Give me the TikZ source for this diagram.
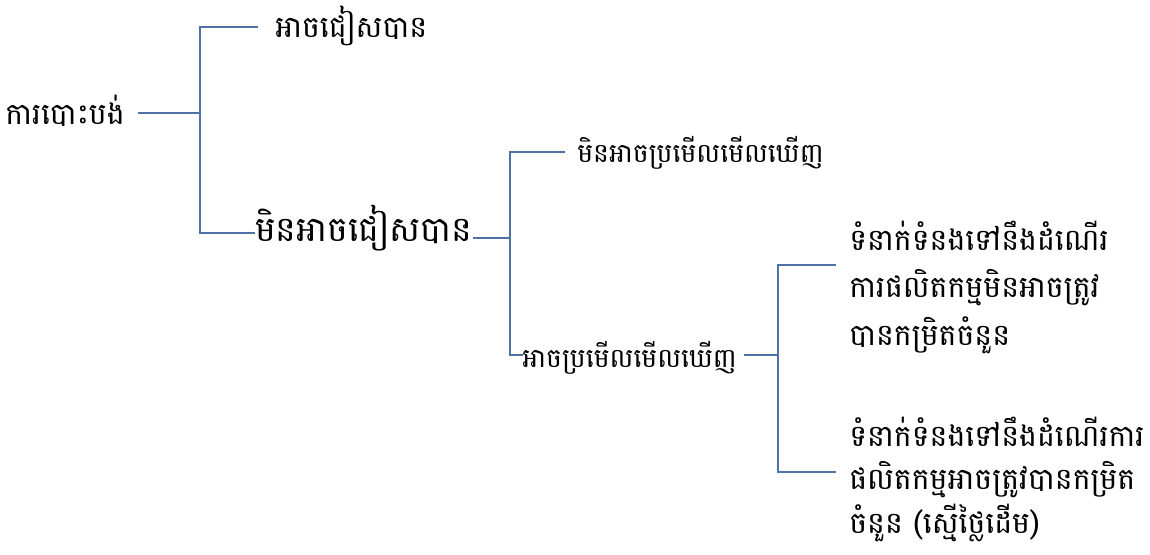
\documentclass[tikz,border=0pt]{standalone}
\usepackage{fontspec}
\newfontfamily\khmer[Script=Khmer]{Battambang}
\definecolor{linkblue}{RGB}{79,114,166}
\begin{document}
\begin{tikzpicture}[x=0.75pt,y=-0.75pt,
  lbl/.style={font=\khmer\fontsize{20}{35}\selectfont, anchor=base west, inner sep=0pt, align=left},
  mid/.style={lbl, font=\khmer\fontsize{22.5}{35}\selectfont},
  big/.style={lbl, font=\khmer\fontsize{26}{35}\selectfont},
  blockA/.style={lbl, font=\khmer\fontsize{22.5}{35.5}\selectfont},
  blockB/.style={lbl, font=\khmer\fontsize{22.5}{32.5}\selectfont},
  conn/.style={draw=linkblue, line width=1.4pt}]
\useasboundingbox (0,0) rectangle (1150,554);
\node[mid] (root) at (5,124) {ការបោះបង់};
\node[mid] (a1) at (275,37) {អាចជៀសបាន};
\node[big] (a2) at (255,241) {មិនអាចជៀសបាន};
\node[lbl] (b1) at (577,162) {មិនអាចប្រមើលមើលឃើញ};
\node[lbl] (b2) at (522,367) {អាចប្រមើលមើលឃើញ};
\node[blockA] (c1) at (849,345) {ទំនាក់ទំនងទៅនឹងដំណើរ\\ការផលិតកម្មមិនអាចត្រូវ\\បានកម្រិតចំនួន};
\node[blockB] (c2) at (849,533) {ទំនាក់ទំនងទៅនឹងដំណើរការ\\ផលិតកម្មអាចត្រូវបានកម្រិត\\ចំនួន (ស្មើថ្លៃដើម)};
\coordinate (j1) at (200,113);
\coordinate (j2) at (510,238);
\coordinate (j3) at (778,355);
\coordinate (a1e) at (258,27);
\coordinate (a2e) at (255,233);
\coordinate (b1e) at (565,152);
\coordinate (b2e) at (523,355);
\coordinate (c1e) at (836,265);
\coordinate (c2e) at (836,472);
\draw[conn] (138,113) -- (j1);
\draw[conn] (j1) |- (a1e);
\draw[conn] (j1) |- (a2e);
\draw[conn] (a2.east |- j2) -- (j2);
\draw[conn] (j2) |- (b1e);
\draw[conn] (j2) |- (b2e);
\draw[conn] ([xshift=5pt]b2.east |- j3) -- (j3);
\draw[conn] (j3) |- (c1e);
\draw[conn] (j3) |- (c2e);
\end{tikzpicture}
\end{document}
